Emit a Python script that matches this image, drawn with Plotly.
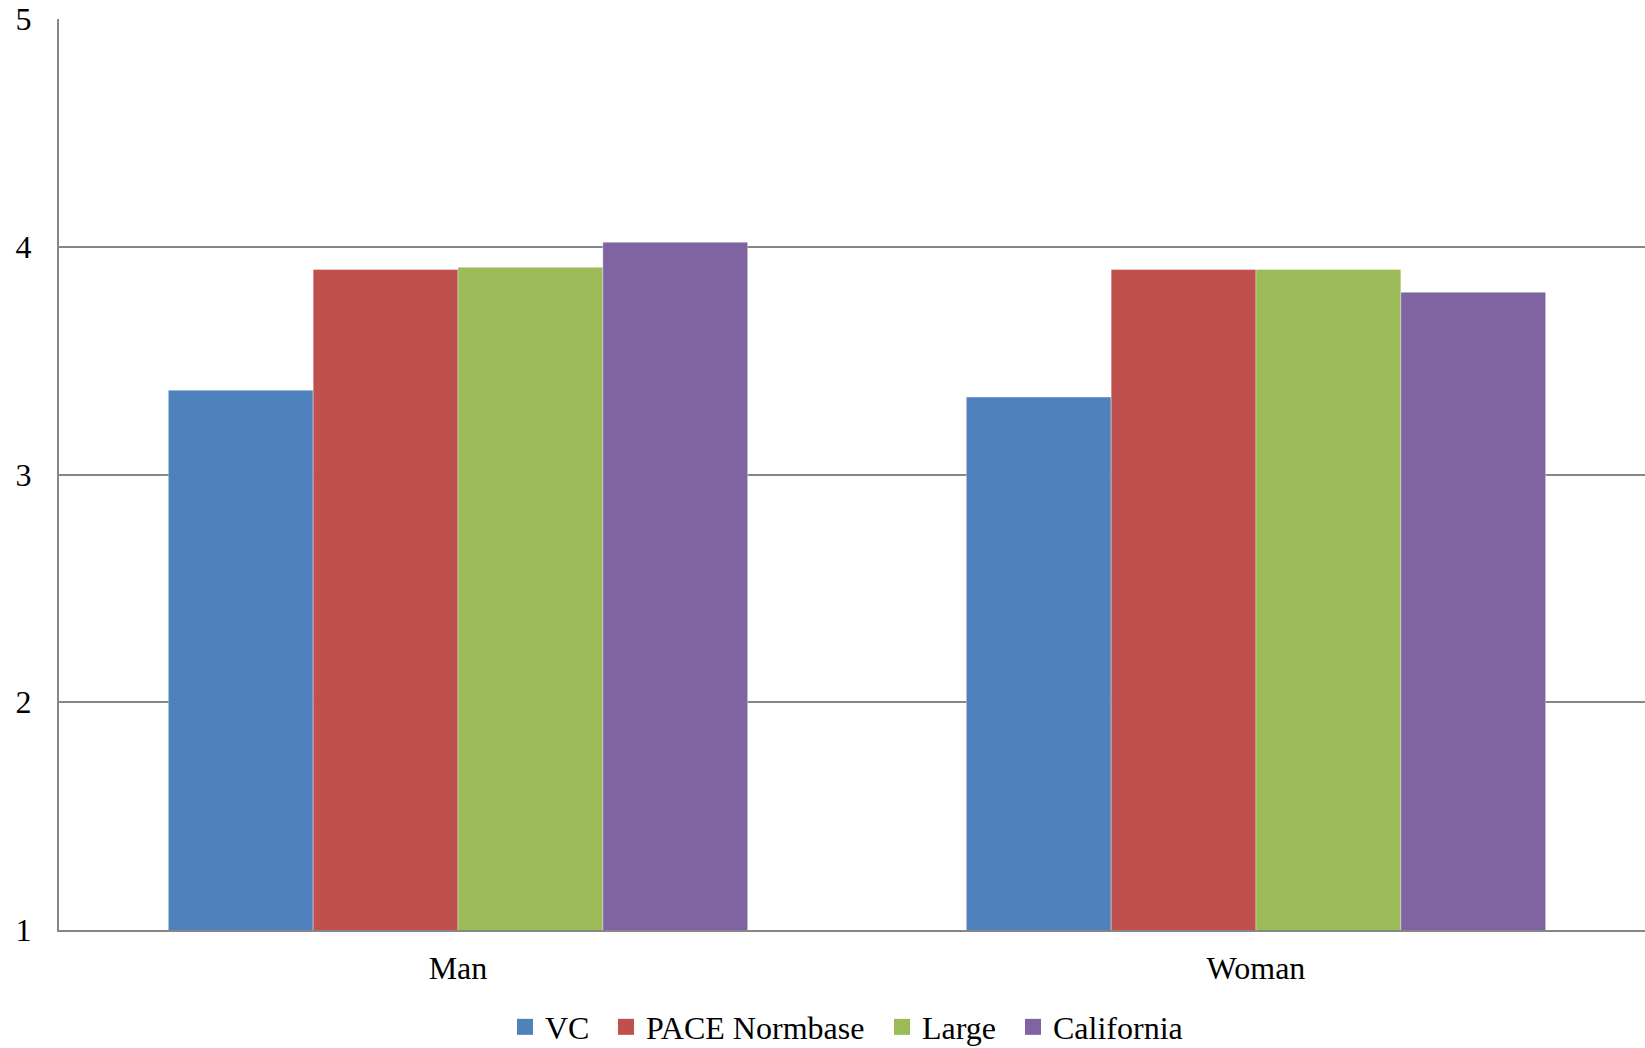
import plotly.graph_objects as go

categories = ["Man", "Woman"]
series_names = ["VC", "PACE Normbase", "Large", "California"]
vc = [3.37, 3.34]
pace = [3.90, 3.90]
large = [3.91, 3.90]
california = [4.02, 3.80]
colors = ["#4F81BD", "#C0504D", "#9BBB59", "#8064A2"]
y_ticks = [1, 2, 3, 4, 5]

# left edge (container px) of each legend entry
legend_lefts = [505, 606, 882, 1013]

fig = go.Figure()
for name, vals, col in zip(series_names, [vc, pace, large, california], colors):
    fig.add_trace(go.Bar(
        x=categories, y=vals, name=name, base=0, showlegend=False,
        marker=dict(color=col, line=dict(width=0.6, color="rgba(255,255,255,0.6)")),
    ))

legend_layouts = {}
for i, (name, col) in enumerate(zip(series_names, colors)):
    key = "legend" if i == 0 else f"legend{i+1}"
    fig.add_trace(go.Scatter(
        x=[None], y=[None], mode="markers", name=name, legend=key,
        marker=dict(symbol="square", size=18, color=col),
    ))
    legend_layouts[key] = dict(
        orientation="h", xref="container", x=legend_lefts[i] / 1645, xanchor="left",
        yref="container", y=0.02, yanchor="middle", font=dict(size=32),
        itemwidth=30, bgcolor="rgba(0,0,0,0)",
    )

fig.update_layout(
    width=1645, height=1048,
    margin=dict(l=59, r=0, t=19, b=118, autoexpand=False),
    barmode="group", bargap=0.274, bargroupgap=0,
    plot_bgcolor="white", paper_bgcolor="white",
    font=dict(family="Liberation Serif, Times New Roman, serif", size=32, color="black"),
    showlegend=True,
    xaxis=dict(showline=True, linecolor="#868686", linewidth=2, ticks="", automargin=False,
               range=[-0.5, 1.4875],
               tickfont=dict(size=32), showgrid=False, ticklabelstandoff=9),
    yaxis=dict(range=[1, 5], tickvals=y_ticks, showline=True, linecolor="#868686", linewidth=2,
               showgrid=True, gridcolor="#868686", gridwidth=1.5, zeroline=False, automargin=False,
               ticks="", tickfont=dict(size=32), ticklabelstandoff=19),
    **legend_layouts,
)

fig.write_html("out.html", config={"displayModeBar": False},
               post_script="document.body.style.margin='0';document.body.style.overflow='hidden';")
